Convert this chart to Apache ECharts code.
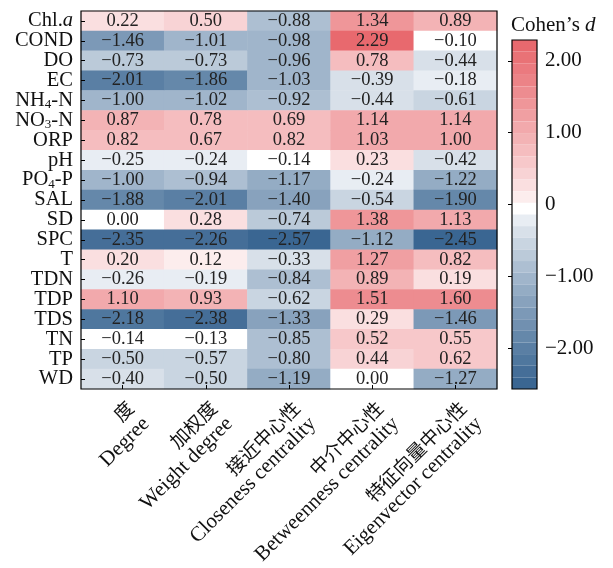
<!DOCTYPE html>
<html><head><meta charset="utf-8">
<script src="https://cdn.jsdelivr.net/npm/echarts@6/dist/echarts.min.js"></script>
<style>html,body{margin:0;padding:0;background:#fff}#c{width:613px;height:568px}</style>
</head><body><div id="c"></div>
<script>
const variables = ['Chl.a','COND','DO','EC','NH4-N','NO3-N','ORP','pH','PO4-P','SAL','SD','SPC','T','TDN','TDP','TDS','TN','TP','WD'];
const metricsZh = ['度','加权度','接近中心性','中介中心性','特征向量中心性'];
const metricsEn = ['Degree','Weight degree','Closeness centrality','Betweenness centrality','Eigenvector centrality'];
const degree       = [0.22,-1.46,-0.73,-2.01,-1.00,0.87,0.82,-0.25,-1.00,-1.88,0.00,-2.35,0.20,-0.26,1.10,-2.18,-0.14,-0.50,-0.40];
const weightDegree = [0.50,-1.01,-0.73,-1.86,-1.02,0.78,0.67,-0.24,-0.94,-2.01,0.28,-2.26,0.12,-0.19,0.93,-2.38,-0.13,-0.57,-0.50];
const closeness    = [-0.88,-0.98,-0.96,-1.03,-0.92,0.69,0.82,-0.14,-1.17,-1.40,-0.74,-2.57,-0.33,-0.84,-0.62,-1.33,-0.85,-0.80,-1.19];
const betweenness  = [1.34,2.29,0.78,-0.39,-0.44,1.14,1.03,0.23,-0.24,-0.54,1.38,-1.12,1.27,0.89,1.51,0.29,0.52,0.44,0.00];
const eigenvector  = [0.89,-0.10,-0.44,-0.18,-0.61,1.14,1.00,-0.42,-1.22,-1.90,1.13,-2.45,0.82,0.19,1.60,-1.46,0.55,0.62,-1.27];
const colorbarTicks = [-2, -1, 0, 1, 2];

const columns = [degree, weightDegree, closeness, betweenness, eigenvector];
const SERIF = "'Liberation Serif','Times New Roman',serif";
const CJK = "'Noto Sans CJK SC','Liberation Serif',sans-serif";

const data = [];
columns.forEach((col, c) => col.forEach((v, r) => data.push([c, r, v])));
const all = data.map(d => d[2]);
const vmin = Math.min(...all), vmax = Math.max(...all);
const NB = 30, step = (vmax - vmin) / NB;
const BLUE = [58, 102, 146], RED = [232, 105, 110];
function bandColor(i) {
  let c, f;
  if (i < 15) { f = Math.pow((15 - i) / 15, 0.8); c = BLUE; }
  else if (i === 15) return '#ffffff';
  else { f = Math.pow((i - 15) / 14, 0.8); c = RED; }
  return 'rgb(' + [0,1,2].map(k => Math.round(255 - (255 - c[k]) * f)).join(',') + ')';
}
const r6 = x => Math.round(x * 1e6) / 1e6;
const pieces = [];
for (let i = 0; i < NB; i++) {
  const p = { gte: r6(vmin + i * step), color: bandColor(i) };
  if (i === NB - 1) p.lte = vmax; else p.lt = r6(vmin + (i + 1) * step);
  pieces.push(p);
}
const fmt = v => (Math.abs(v) < 1e-9 ? '0.00' : v.toFixed(2).replace('-', '\u2212'));
function varLabel(v) {
  if (v === 'Chl.a') return '{n|Chl.}{i|a}';
  const m = v.match(/^([A-Za-z]+)(\d)(-.*)$/);
  if (m) return '{n|' + m[1] + '}{s|' + m[2] + '}{n|' + m[3] + '}';
  return '{n|' + v + '}';
}

const chart = echarts.init(document.getElementById('c'), null, { renderer: 'canvas' });
chart.setOption({
  backgroundColor: '#ffffff',
  animation: false,
  title: {
    text: '{n|Cohen\u2019s }{i|d}', left: 511, top: 15, padding: 0,
    textStyle: { rich: {
      n: { fontFamily: SERIF, fontSize: 21, color: '#111', fontWeight: 'normal' },
      i: { fontFamily: SERIF, fontSize: 21, color: '#111', fontStyle: 'italic', fontWeight: 'normal' }
    } }
  },
  grid: [
    { left: 81, top: 11, width: 416, height: 378, show: true, borderColor: '#000', borderWidth: 1.2, backgroundColor: 'transparent', z: 10 },
    { left: 512, top: 40, width: 25, height: 349, show: true, borderColor: '#000', borderWidth: 1.2, backgroundColor: 'transparent', z: 10 }
  ],
  xAxis: [
    {
      type: 'category', gridIndex: 0, data: metricsEn, position: 'bottom', z: 10,
      axisLine: { show: false },
      axisTick: { show: true, inside: true, length: 4, alignWithLabel: true, lineStyle: { color: '#000', width: 1 } },
      splitLine: { show: false },
      axisLabel: {
        rotate: 45, margin: 8, interval: 0, padding: [44, 0, 0, 0],
        formatter: (v, i) => '{z|' + metricsZh[i] + '}\n{e|' + metricsEn[i] + '}',
        rich: {
          z: { fontFamily: CJK, fontSize: 19, lineHeight: 23, color: '#111' },
          e: { fontFamily: SERIF, fontSize: 21, lineHeight: 23, color: '#111' }
        }
      }
    },
    { type: 'value', gridIndex: 1, show: false, min: 0, max: 1 }
  ],
  yAxis: [
    {
      type: 'category', gridIndex: 0, data: variables, inverse: true, z: 10,
      axisLine: { show: false },
      axisTick: { show: true, inside: true, length: 4, alignWithLabel: true, lineStyle: { color: '#000', width: 1 } },
      splitLine: { show: false },
      axisLabel: {
        margin: 8, interval: 0,
        formatter: varLabel,
        rich: {
          n: { fontFamily: SERIF, fontSize: 20.5, lineHeight: 24, color: '#111' },
          i: { fontFamily: SERIF, fontSize: 20.5, lineHeight: 24, color: '#111', fontStyle: 'italic' },
          s: { fontFamily: SERIF, fontSize: 13, lineHeight: 13, color: '#111', padding: [8, 0, 0, 0] }
        }
      }
    },
    {
      type: 'value', gridIndex: 1, position: 'right', min: vmin, max: vmax, z: 10,
      axisLine: { show: false },
      splitLine: { show: false },
      axisTick: { show: true, inside: true, length: 4, customValues: colorbarTicks, lineStyle: { color: '#000', width: 1 } },
      axisLabel: {
        margin: 8, customValues: colorbarTicks, fontFamily: SERIF, fontSize: 21, color: '#111',
        formatter: v => (v === 0 ? '0' : v.toFixed(2).replace('-', '\u2212'))
      }
    }
  ],
  visualMap: {
    type: 'piecewise', dimension: 2, seriesIndex: 0, pieces: pieces,
    orient: 'vertical', left: 512, top: 40, itemWidth: 25, itemHeight: 349 / NB, itemGap: 0,
    padding: 0, showLabel: false, itemSymbol: 'rect', selectedMode: false
  },
  series: [{
    type: 'heatmap', xAxisIndex: 0, yAxisIndex: 0, data: data,
    label: { show: true, formatter: p => fmt(p.value[2]), fontFamily: SERIF, fontSize: 18.5, color: '#222' },
    itemStyle: { borderWidth: 0 },
    emphasis: { disabled: true }
  }]
});
</script></body></html>
